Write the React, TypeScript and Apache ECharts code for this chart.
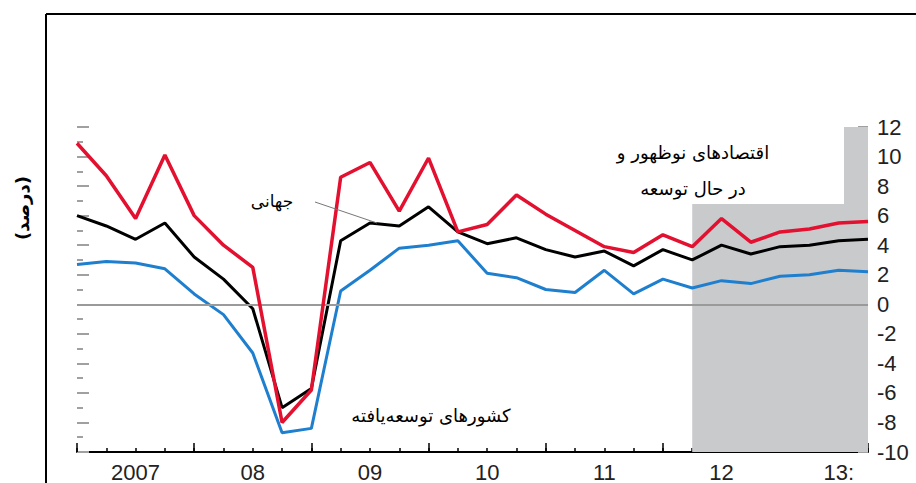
import React, { useEffect, useRef } from "react";
import * as echarts from "echarts";

// Quarterly growth, 2007Q1 .. 2013Q4 (index 0..27)
const emerging = [10.9, 8.7, 5.8, 10.1, 6.0, 4.0, 2.5, -8.0, -5.8, 8.6, 9.6, 6.3, 9.9, 4.9, 5.4, 7.4, 6.1, 5.0, 3.9, 3.5, 4.7, 3.9, 5.8, 4.2, 4.9, 5.1, 5.5, 5.6];
const world = [6.0, 5.3, 4.4, 5.5, 3.2, 1.7, -0.3, -7.0, -5.7, 4.3, 5.5, 5.3, 6.6, 4.9, 4.1, 4.5, 3.7, 3.2, 3.6, 2.6, 3.7, 3.0, 4.0, 3.4, 3.9, 4.0, 4.3, 4.4];
const advanced = [2.7, 2.9, 2.8, 2.4, 0.7, -0.7, -3.3, -8.7, -8.4, 0.9, 2.3, 3.8, 4.0, 4.3, 2.1, 1.8, 1.0, 0.8, 2.3, 0.7, 1.7, 1.1, 1.6, 1.4, 1.9, 2.0, 2.3, 2.2];
const yearLabels = ["2007", "08", "09", "10", "11", "12", "13:"];
const yearLabelIndex = [2, 6, 10, 14, 18, 22, 26];
const forecastStart = 21;
const forecastEnd = 27;

const toPairs = (arr: number[]) => arr.map((v, i) => [i, v]);

export default function App() {
  const ref = useRef<HTMLDivElement>(null);
  useEffect(() => {
    if (!ref.current) return;
    const chart = echarts.init(ref.current, undefined, { renderer: "svg" });
    const arabicFont = "DejaVu Sans";
    const grid = { left: 77, right: 48, top: 127, bottom: 31 };
    const tickColor = "#a0a0a0";
    chart.setOption({
      animation: false,
      grid,
      xAxis: [
        {
          type: "value",
          min: 0,
          max: 27,
          interval: 1,
          axisLine: { show: true, onZero: false, lineStyle: { color: "#000", width: 2 } },
          axisTick: { show: true, inside: true, length: 4, lineStyle: { color: "#000", width: 1.5 } },
          splitLine: { show: false },
          axisLabel: {
            show: true,
            margin: 9,
            fontSize: 22,
            color: "#222",
            fontFamily: "Liberation Sans",
            formatter: (v: number) => {
              const k = yearLabelIndex.indexOf(Math.round(v));
              return k >= 0 && Math.abs(v - Math.round(v)) < 1e-6 ? yearLabels[k] : "";
            },
          },
        },
        {
          type: "value",
          position: "bottom",
          min: 0,
          max: 27,
          interval: 4,
          axisLine: { show: false, onZero: false },
          axisTick: { show: true, inside: true, length: 9, lineStyle: { color: "#000", width: 1.5 } },
          axisLabel: { show: false },
          splitLine: { show: false },
        },
      ],
      yAxis: [
        {
          type: "value",
          position: "right",
          min: -10,
          max: 12,
          interval: 2,
          axisLine: { show: false, onZero: false },
          axisTick: { show: true, inside: true, length: 10, lineStyle: { color: tickColor, width: 2 } },
          minorTick: { show: true, splitNumber: 2, length: 5, lineStyle: { color: tickColor, width: 2 } },
          splitLine: { show: false },
          axisLabel: { show: true, margin: 9, fontSize: 22, color: "#222", fontFamily: "Liberation Sans" },
        },
        {
          type: "value",
          position: "left",
          min: -10,
          max: 12,
          interval: 2,
          axisLine: { show: false, onZero: false },
          axisTick: { show: true, inside: true, length: 12, lineStyle: { color: tickColor, width: 2 } },
          minorTick: { show: true, splitNumber: 2, length: 6, lineStyle: { color: tickColor, width: 2 } },
          splitLine: { show: false },
          axisLabel: { show: false },
        },
      ],
      series: [
        {
          type: "line",
          z: 1,
          data: [],
          markArea: {
            silent: true,
            itemStyle: { color: "#c9cacc" },
            data: [[{ xAxis: forecastStart }, { xAxis: forecastEnd }]],
          },
          markLine: {
            silent: true,
            symbol: "none",
            label: { show: false },
            lineStyle: { color: "#9a9a9a", width: 2, type: "solid" },
            data: [{ yAxis: 0 }],
          },
        },
        {
          name: "advanced",
          type: "line",
          data: toPairs(advanced),
          showSymbol: false,
          lineStyle: { color: "#1f7fcf", width: 3 },
          itemStyle: { color: "#1f7fcf" },
          z: 3,
        },
        {
          name: "world",
          type: "line",
          data: toPairs(world),
          showSymbol: false,
          lineStyle: { color: "#000", width: 3 },
          itemStyle: { color: "#000" },
          z: 4,
        },
        {
          name: "emerging",
          type: "line",
          data: toPairs(emerging),
          showSymbol: false,
          lineStyle: { color: "#e3102f", width: 3.5 },
          itemStyle: { color: "#e3102f" },
          z: 5,
        },
      ],
      graphic: [
        { type: "line", z: 20, shape: { x1: 46, y1: 14, x2: 916, y2: 14 }, style: { stroke: "#000", lineWidth: 2 } },
        { type: "line", z: 20, shape: { x1: 46, y1: 14, x2: 46, y2: 483 }, style: { stroke: "#000", lineWidth: 2 } },
        { type: "rect", z: 10, shape: { x: 548, y: 118, width: 296, height: 86 }, style: { fill: "#fff" } },
        {
          type: "text", z: 11, x: 693, y: 152,
          style: { text: "اقتصادهای نوظهور و", font: `18px "${arabicFont}"`, fill: "#000", align: "center", verticalAlign: "middle" },
        },
        {
          type: "text", z: 11, x: 693, y: 188,
          style: { text: "در حال توسعه", font: `18px "${arabicFont}"`, fill: "#000", align: "center", verticalAlign: "middle" },
        },
        {
          type: "text", z: 11, x: 272, y: 201,
          style: { text: "جهانی", font: `17px "${arabicFont}"`, fill: "#000", align: "center", verticalAlign: "middle" },
        },
        { type: "line", z: 11, shape: { x1: 315, y1: 202, x2: 377, y2: 223 }, style: { stroke: "#777", lineWidth: 1 } },
        {
          type: "text", z: 11, x: 431, y: 415,
          style: { text: "کشورهای توسعه\u200cیافته", font: `18px "${arabicFont}"`, fill: "#000", align: "center", verticalAlign: "middle" },
        },
        {
          type: "text", z: 11, x: 22, y: 208, rotation: Math.PI / 2,
          style: { text: "(درصد)", font: `bold 18px "${arabicFont}"`, fill: "#000", align: "center", verticalAlign: "middle" },
        },
      ],
    });
    return () => chart.dispose();
  }, []);
  return <div ref={ref} style={{ position: "fixed", left: 0, top: 0, width: 916, height: 483, background: "#fff" }} />;
}
